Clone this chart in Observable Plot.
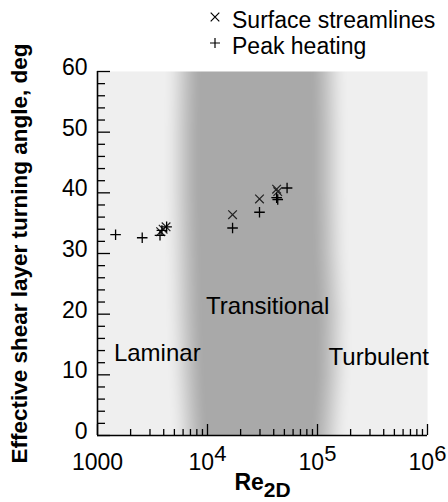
<!DOCTYPE html>
<html>
<head>
<meta charset="utf-8">
<script src="https://cdn.jsdelivr.net/npm/d3@7"></script>
<script src="https://cdn.jsdelivr.net/npm/@observablehq/plot@0.6"></script>
<style>
  html, body { margin: 0; padding: 0; background: #fff; }
  #wrap { position: relative; width: 448px; height: 502px; font-family: "Liberation Sans", Arial, sans-serif; }
  #legend { position: absolute; left: 0; top: 0; width: 448px; height: 60px; pointer-events: none; }
  #legend .item { position: absolute; left: 0; font-size: 23px; line-height: 25px; height: 25px; color: #000; white-space: nowrap; }
  #legend svg { position: absolute; overflow: visible; }
  g[aria-label="y-axis label"] text, g[aria-label="x-axis label"] text { font-weight: bold; }
</style>
</head>
<body>
<div id="wrap">
  <div id="chart"></div>
  <div id="legend"></div>
</div>
<script>
// ---- data ----
const streamRe    = [3750, 3950, 4200, 16900, 29700, 42500, 43500];
const streamAngle = [33.6, 34.0, 34.4, 36.4, 39.0, 40.6, 40.2];

const heatRe    = [1460, 2550, 3700, 3850, 4250, 16900, 29700, 42500, 43500, 52900];
const heatAngle = [33.1, 32.6, 33.0, 33.8, 34.4, 34.2, 36.8, 39.2, 38.9, 40.8];

const seriesNames = ["Surface streamlines", "Peak heating"];

// axes
const xMajor = [1000, 1e4, 1e5, 1e6];
const xMajorLabels = ["1000", "10^4", "10^5", "10^6"];
const xMinor = [2000,3000,4000,5000,6000,7000,8000,9000,
                2e4,3e4,4e4,5e4,6e4,7e4,8e4,9e4,
                2e5,3e5,4e5,5e5,6e5,7e5,8e5,9e5];
const yMajor = [0, 10, 20, 30, 40, 50, 60];
const yMinor = [2,4,6,8,12,14,16,18,22,24,26,28,32,34,36,38,42,44,46,48,52,54,56,58];

// regime annotations
const regimeNames = ["Laminar", "Transitional", "Turbulent"];
const regimeRe    = [1410, 9700, 126000];
const regimeAngle = [13.5, 21.3, 12.9];

// background shading (flow regime bands): log10(Re) of band edges per angle
const shadeAngle     = [0, 10, 20, 30, 40, 50, 60];
const shadeLeftEdge  = [3.84, 3.81, 3.79, 3.78, 3.77, 3.77, 3.78];
const shadeRightEdge = [5.10, 5.14, 5.15, 5.12, 5.11, 5.11, 5.10];
const shadeWidth = 0.36;
const shadeColors = ["#efefef", "#a9a9a9"];

// ---- build ----
const streamData = streamRe.map((re, i) => ({re, angle: streamAngle[i]}));
const heatData = heatRe.map((re, i) => ({re, angle: heatAngle[i]}));
const regimeData = regimeNames.map((name, i) => ({name, re: regimeRe[i], angle: regimeAngle[i]}));

const edgeAt = (arr, a) => {
  const t = Math.max(0, Math.min(60, a)) / 10;
  const i = Math.min(5, Math.floor(t));
  return arr[i] + (arr[i + 1] - arr[i]) * (t - i);
};
const smooth = (e0, e1, v) => { const t = Math.max(0, Math.min(1, (v - e0) / (e1 - e0))); return t * t * (3 - 2 * t); };
function shade(re, angle) {
  const lr = Math.log10(re);
  const le = edgeAt(shadeLeftEdge, angle), rr = edgeAt(shadeRightEdge, angle);
  return smooth(le - shadeWidth / 2, le + shadeWidth / 2, lr) * (1 - smooth(rr - shadeWidth / 2, rr + shadeWidth / 2, lr));
}

const fmtX = d => xMajorLabels[xMajor.indexOf(d)];
const blank = () => "";

const chart = Plot.plot({
  width: 448,
  height: 502,
  marginLeft: 97,
  marginRight: 21,
  marginTop: 71,
  marginBottom: 67,
  style: {fontFamily: "'Liberation Sans', Arial, sans-serif", background: "transparent", color: "#000", overflow: "visible"},
  x: {type: "log", domain: [1000, 1e6]},
  y: {domain: [0, 60]},
  color: {type: "linear", domain: [0, 1], range: shadeColors},
  marks: [
    Plot.raster({x1: 1000, x2: 1e6, y1: 0, y2: 60, fill: shade, pixelSize: 1}),
    // minor / major inward ticks
    Plot.axisX(xMinor, {anchor: "bottom", tickSize: -6, tickFormat: blank, label: null, strokeWidth: 1.3}),
    Plot.axisX(xMajor, {anchor: "bottom", tickSize: -11, tickFormat: blank, label: null, strokeWidth: 1.3}),
    Plot.axisY(yMinor, {anchor: "left", tickSize: -8, tickFormat: blank, label: null, strokeWidth: 1.3}),
    Plot.axisY(yMajor, {anchor: "left", tickSize: -13, tickFormat: blank, label: null, strokeWidth: 1.3}),
    // labels
    Plot.axisX(xMajor, {anchor: "bottom", tickSize: 0, tickPadding: 18, tickFormat: fmtX, fontSize: 23,
      label: "Re2D", labelAnchor: "center", labelOffset: 54}),
    Plot.axisY(yMajor, {anchor: "left", tickSize: 0, tickPadding: 10, dy: -4, fontSize: 23,
      label: "Effective shear layer turning angle, deg", labelAnchor: "center", labelOffset: 86}),
    // frame
    Plot.ruleX([1000], {stroke: "#000", strokeWidth: 1.6}),
    Plot.ruleY([0], {stroke: "#000", strokeWidth: 1.6}),
    // regime labels
    Plot.text(regimeData, {x: "re", y: "angle", text: "name", textAnchor: "start", fontSize: 24, fill: "#000"}),
    // data
    Plot.dot(streamData, {x: "re", y: "angle", symbol: "times", r: 4.0, stroke: "#222", strokeWidth: 1.2}),
    Plot.dot(heatData, {x: "re", y: "angle", symbol: "plus", r: 3.5, stroke: "#000", strokeWidth: 1.3})
  ]
});

// superscripts on decade labels, subscript on axis title, no arrow on y label
d3.select(chart).selectAll('g[aria-label="x-axis tick label"] text').each(function() {
  const s = this.textContent;
  if (s.includes("^")) {
    const [b, e] = s.split("^");
    this.textContent = "";
    d3.select(this).append("tspan").text(b);
    d3.select(this).append("tspan").attr("dy", "-9").attr("font-size", 22).text(e);
  }
});
d3.select(chart).selectAll('g[aria-label="x-axis label"] text').each(function() {
  this.textContent = "";
  d3.select(this).append("tspan").text("Re");
  d3.select(this).append("tspan").attr("dy", "7").attr("font-size", 21).text("2D");
});
d3.select(chart).selectAll('g[aria-label="y-axis label"] text').each(function() {
  this.textContent = this.textContent.replace(/[↑↓→←]/g, "").trim();
  this.setAttribute("font-size", 22.5);
});

document.getElementById("chart").appendChild(chart);

// legend
const legend = document.getElementById("legend");
const symbols = ["times", "plus"];
seriesNames.forEach((name, i) => {
  const baseline = 28 + i * 26;
  const sym = symbols[i];
  const svgNS = "http://www.w3.org/2000/svg";
  const s = document.createElementNS(svgNS, "svg");
  s.setAttribute("width", 20); s.setAttribute("height", 20);
  s.style.left = "205px"; s.style.top = (baseline - 21) + "px";
  const p = document.createElementNS(svgNS, "path");
  p.setAttribute("d", sym === "times" ? "M5.7,5.7L14.3,14.3M5.7,14.3L14.3,5.7" : "M5,10L15,10M10,5L10,15");
  p.setAttribute("stroke", "#000"); p.setAttribute("stroke-width", "1.2"); p.setAttribute("fill", "none");
  s.appendChild(p);
  legend.appendChild(s);
  const t = document.createElement("div");
  t.className = "item";
  t.textContent = name;
  t.style.left = "232px";
  t.style.top = (baseline - 20.5) + "px";
  legend.appendChild(t);
});
</script>
</body>
</html>
